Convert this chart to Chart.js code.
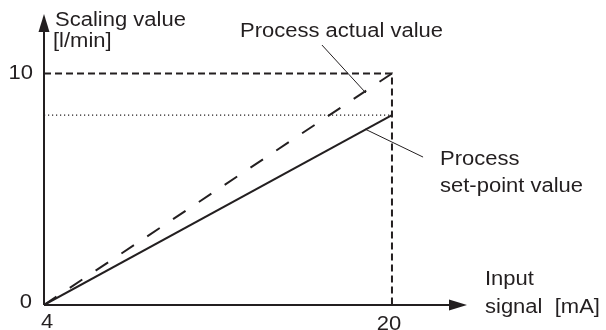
<!DOCTYPE html>
<html>
<head>
<meta charset="utf-8">
<script src="https://cdn.jsdelivr.net/npm/chart.js@4.4.0/dist/chart.umd.min.js"></script>
<style>
html,body{margin:0;padding:0;background:#fff;}
#wrap{width:606px;height:330px;}
</style>
</head>
<body>
<div id="wrap"><canvas id="c" width="606" height="330"></canvas></div>
<script>
// ---- data ----
const inputSignal = [4, 20];          // mA
const actualValue = [0, 10];          // l/min (process actual value)
const setPointValue = [0, 8.2];       // l/min (process set-point value)
const scalingMax = 10;
const setPointMax = 8.2;
const xTicks = [4, 20];
const yTicks = [0, 10];
const xRange = [4, 23.45];
const yRange = [0, 12.57];
// leader lines (data units)
const leaderActualX = [16.78, 18.8];
const leaderActualY = [11.23, 9.16];
const leaderSetX = [18.76, 21.43];
const leaderSetY = [7.6, 6.39];

const INK = '#231f20';
const pts = (xs, ys) => xs.map((x, i) => ({x, y: ys[i]}));

const datasets = [
  { // dashed frame top and right
    data: [{x: inputSignal[0], y: scalingMax}, {x: inputSignal[1], y: scalingMax}, {x: inputSignal[1], y: 0}],
    borderColor: INK, borderWidth: 2, borderDash: [7, 4]
  },
  { // dotted set-point max
    data: [{x: inputSignal[0], y: setPointMax}, {x: inputSignal[1], y: setPointMax}],
    borderColor: INK, borderWidth: 1.2, borderDash: [1.2, 2.8]
  },
  { // actual value (dashed)
    data: pts(inputSignal, actualValue),
    borderColor: INK, borderWidth: 2, borderDash: [15, 16]
  },
  { // set-point value (solid)
    data: pts(inputSignal, setPointValue),
    borderColor: INK, borderWidth: 2
  },
  { data: pts(leaderActualX, leaderActualY), borderColor: INK, borderWidth: 1 },
  { data: pts(leaderSetX, leaderSetY), borderColor: INK, borderWidth: 1 }
].map(d => Object.assign({showLine: true, pointRadius: 0, fill: false, tension: 0}, d));

const FONT = '20px "Liberation Sans", Arial, Helvetica, sans-serif';
const SX = 1.1;

function txt(ctx, s, x, y, align, base) {
  ctx.save();
  ctx.font = FONT;
  ctx.fillStyle = INK;
  ctx.textAlign = align || 'left';
  ctx.textBaseline = base || 'alphabetic';
  ctx.translate(x, y);
  ctx.scale(SX, 1);
  ctx.fillText(s, 0, 0);
  ctx.restore();
}

const decor = {
  id: 'decor',
  afterDraw(chart) {
    const {ctx, chartArea: a, scales: {x, y}} = chart;
    const ox = x.getPixelForValue(xRange[0]);
    const oy = y.getPixelForValue(yRange[0]);
    ctx.save();
    ctx.strokeStyle = INK; ctx.fillStyle = INK; ctx.lineWidth = 2;
    // y axis
    ctx.beginPath(); ctx.moveTo(ox, oy); ctx.lineTo(ox, a.top + 14); ctx.stroke();
    ctx.beginPath(); ctx.moveTo(ox, a.top); ctx.lineTo(ox - 5.5, a.top + 18); ctx.lineTo(ox + 5.5, a.top + 18); ctx.closePath(); ctx.fill();
    // x axis
    ctx.beginPath(); ctx.moveTo(ox, oy); ctx.lineTo(a.right - 14, oy); ctx.stroke();
    ctx.beginPath(); ctx.moveTo(a.right, oy); ctx.lineTo(a.right - 18, oy - 5.5); ctx.lineTo(a.right - 18, oy + 5.5); ctx.closePath(); ctx.fill();
    ctx.restore();
    // tick labels
    yTicks.forEach(v => {
      const py = y.getPixelForValue(v);
      if (v === yRange[0]) txt(ctx, String(v), ox - 12, py + 3, 'right', 'alphabetic');
      else txt(ctx, String(v), ox - 11, py, 'right', 'middle');
    });
    xTicks.forEach((v, i) => {
      const px = x.getPixelForValue(v);
      txt(ctx, String(v), px + (i === 0 ? 3 : -3), oy + 23 + (i === 0 ? 0 : 2), 'center', 'alphabetic');
    });
    // labels
    txt(ctx, 'Scaling value', ox + 11, 26);
    txt(ctx, '[l/min]', ox + 9, 47);
    txt(ctx, 'Process actual value', 240, 37);
    txt(ctx, 'Process', 440, 165);
    txt(ctx, 'set-point value', 440, 192);
    txt(ctx, 'Input', 485, 285);
    txt(ctx, 'signal  [mA]', 485, 313);
  }
};

new Chart(document.getElementById('c'), {
  type: 'scatter',
  data: {datasets},
  options: {
    responsive: false,
    animation: false,
    events: [],
    layout: {padding: {top: 14, right: 139, left: 0, bottom: 0}},
    plugins: {legend: {display: false}, tooltip: {enabled: false}},
    scales: {
      x: {
        type: 'linear', min: xRange[0], max: xRange[1],
        grid: {display: false}, border: {display: false}, ticks: {display: false},
        afterFit(s) { s.height = 25; }
      },
      y: {
        type: 'linear', min: yRange[0], max: yRange[1],
        grid: {display: false}, border: {display: false}, ticks: {display: false},
        afterFit(s) { s.width = 44; }
      }
    }
  },
  plugins: [decor]
});
</script>
</body>
</html>
